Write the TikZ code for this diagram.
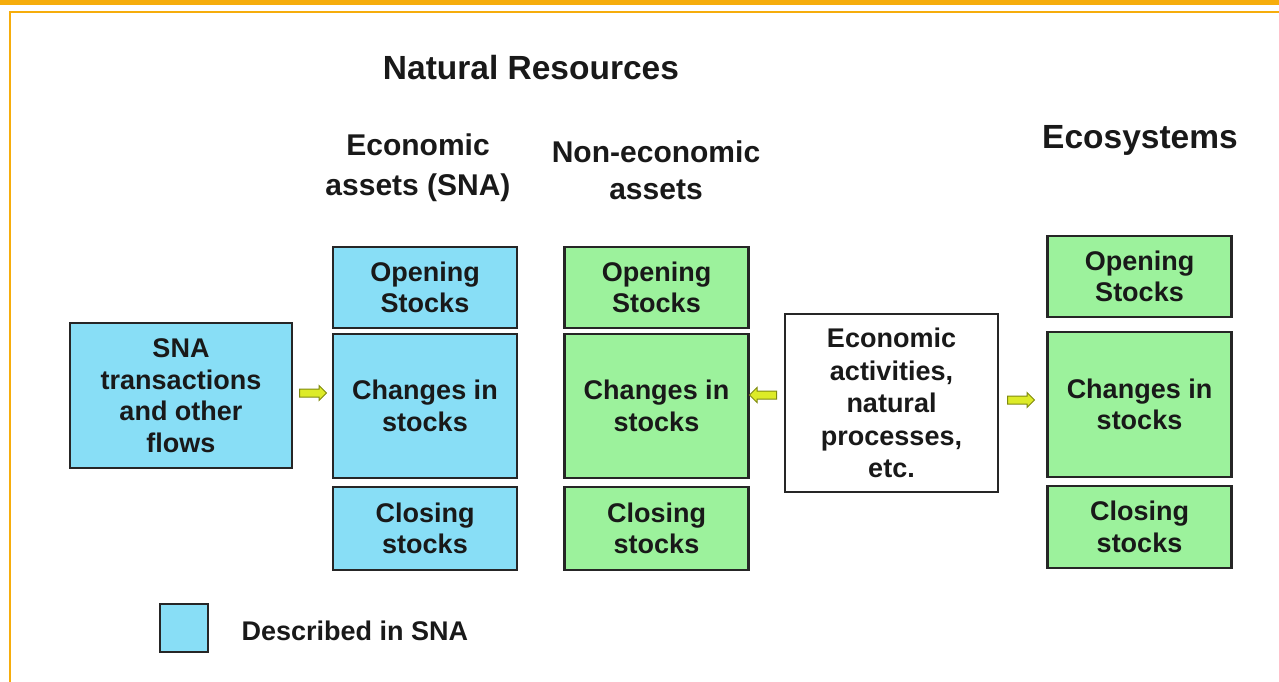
\documentclass[tikz,border=0pt]{standalone}
\usepackage{fontspec}
\setmainfont{Liberation Sans}
\usetikzlibrary{shapes.arrows}
\definecolor{framegold}{HTML}{F6AD0C}
\definecolor{snablue}{HTML}{88DEF6}
\definecolor{ecogreen}{HTML}{9CF29C}
\definecolor{arrowfill}{HTML}{DDEB28}
\definecolor{arrowline}{HTML}{7F8A10}
\newcommand\boxfont{\fontsize{27}{31.5}\selectfont\bfseries}
\newcommand\headfont{\fontsize{30}{37}\selectfont\bfseries}
\newcommand\titlefont{\fontsize{33.5}{38}\selectfont\bfseries}
\begin{document}
\begin{tikzpicture}[x=1pt, y=-1pt,
	box/.style={draw=black!85, line width=2.4pt, align=center, font=\boxfont,
		text=black!90, inner sep=0pt},
	sna/.style={box, fill=snablue, minimum width=184pt},
	eco/.style={box, fill=ecogreen, minimum width=184pt},
	head/.style={align=center, font=\headfont, text=black!90},
	flow/.style={single arrow, draw=arrowline, fill=arrowfill, line width=1pt,
		minimum height=27pt, inner sep=3.5pt, single arrow head extend=3.5pt,
		single arrow head indent=0pt}]
	\useasboundingbox (0,0) rectangle (1279,682);
	% frame
	\fill[framegold] (0,0) rectangle (1279,5);
	\draw[framegold, line width=2pt] (10,682) -- (10,12) -- (1279,12);

	% headings
	\node[head, font=\titlefont] (NR) at (531,68) {Natural Resources};
	\node[head, font=\fontsize{30}{40}\selectfont\bfseries] (HE) at (418,168) {Economic\\assets (SNA)};
	\node[head] (HN) at (656,170) {Non-economic\\assets};
	\node[head, font=\titlefont] (HZ) at (1140,140) {Ecosystems};

	% SNA flows
	\node[box, fill=snablue, minimum width=222pt, minimum height=145pt]
		(SNA) at (181,395.5) {SNA\\transactions\\and other\\flows};

	% economic assets
	\node[sna, minimum height=81pt] (EO) at (425,287.5) {Opening\\Stocks};
	\node[sna, minimum height=144pt] (EC) at (425,406) {Changes in\\stocks};
	\node[sna, minimum height=83pt] (EL) at (425,528.5) {Closing\\stocks};

	% non-economic assets
	\node[eco, minimum height=81pt] (NO) at (656.5,287.5) {Opening\\Stocks};
	\node[eco, minimum height=144pt] (NC) at (656.5,406) {Changes in\\stocks};
	\node[eco, minimum height=83pt] (NL) at (656.5,528.5) {Closing\\stocks};

	% activities
	\node[box, fill=white, minimum width=213pt, minimum height=178pt,
		font=\fontsize{27}{32.5}\selectfont\bfseries]
		(ACT) at (891.5,403) {Economic\\activities,\\natural\\processes,\\etc.};

	% ecosystems
	\node[eco, minimum height=81pt] (ZO) at (1139.5,276.5) {Opening\\Stocks};
	\node[eco, minimum height=145pt] (ZC) at (1139.5,404.5) {Changes in\\stocks};
	\node[eco, minimum height=82pt] (ZL) at (1139.5,527) {Closing\\stocks};

	% small arrows
	\node[flow] (A1) at (311,393) {};
	\node[flow, shape border rotate=180] (A2) at (765,395) {};
	\node[flow] (A3) at (1019,400) {};

	% legend
	\node[box, fill=snablue, minimum width=48pt, minimum height=48pt] (KEY) at (184,628) {};
	\node[anchor=west, font=\fontsize{27}{30}\selectfont\bfseries, text=black!90]
		(KEYT) at (238,631) {Described in SNA};
\end{tikzpicture}
\end{document}
